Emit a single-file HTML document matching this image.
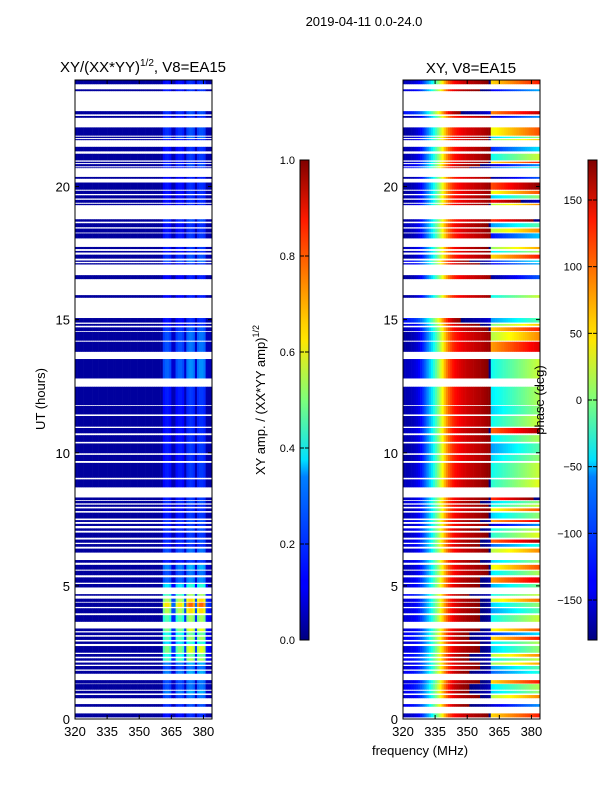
<!DOCTYPE html>
<html><head><meta charset="utf-8">
<style>
body{margin:0;background:#fff;}
svg{display:block;font-family:"Liberation Sans","DejaVu Sans",sans-serif;}
</style></head>
<body>
<svg id="fig" width="600" height="800" viewBox="0 0 600 800" xmlns="http://www.w3.org/2000/svg">
<defs>
<linearGradient id="jet" x1="0" y1="1" x2="0" y2="0">
<stop offset="0" stop-color="#000080"/><stop offset="0.11" stop-color="#0000ff"/>
<stop offset="0.125" stop-color="#0000ff"/><stop offset="0.34" stop-color="#0080ff"/>
<stop offset="0.375" stop-color="#00e0ff"/><stop offset="0.5" stop-color="#7dff7a"/>
<stop offset="0.625" stop-color="#ffe600"/><stop offset="0.66" stop-color="#ffd000"/>
<stop offset="0.875" stop-color="#ff1a00"/><stop offset="1" stop-color="#800000"/>
</linearGradient>
</defs>
<text x="364" y="26" font-size="13" text-anchor="middle">2019-04-11 0.0-24.0</text>
<text x="143" y="72" font-size="15" text-anchor="middle">XY/(XX*YY)<tspan font-size="10" dy="-6">1/2</tspan><tspan dy="6">, V8=EA15</tspan></text>
<text x="471" y="73" font-size="15" text-anchor="middle">XY, V8=EA15</text>
<g id="ampCells"></g>
<g id="phaseCells"></g>
<rect x="75" y="80" width="137" height="639" fill="none" stroke="#000" stroke-width="1"/>
<rect x="403" y="80" width="137" height="639" fill="none" stroke="#000" stroke-width="1"/>
<g id="axes" font-size="13"></g>
<text transform="translate(45,399) rotate(-90)" font-size="13" text-anchor="middle">UT (hours)</text>
<text x="420" y="755" font-size="13" text-anchor="middle">frequency (MHz)</text>
<rect x="300" y="160" width="9" height="480" fill="url(#jet)" stroke="#000" stroke-width="1"/>
<rect x="588" y="160" width="9" height="480" fill="url(#jet)" stroke="#000" stroke-width="1"/>
<text transform="translate(265,400) rotate(-90)" font-size="13" text-anchor="middle">XY amp. / (XX*YY amp)<tspan font-size="9" dy="-6">1/2</tspan></text>
<text transform="translate(544,400) rotate(-90)" font-size="13" text-anchor="middle">phase (deg)</text>
<g id="cbticks" font-size="11"></g>
</svg>
<script>
// ---- data ----
const freqMin = 320, freqMax = 384;
const channels = [];
for (let f = 320; f < 384; f++) channels.push(f);
const chanProfile = [0.03,0.03,0.03,0.03,0.03,0.03,0.03,0.03,0.03,0.03,0.03,0.03,0.03,0.03,0.03,0.03,0.03,0.03,0.03,0.03,
0.03,0.03,0.03,0.03,0.03,0.03,0.03,0.03,0.03,0.03,0.03,0.03,0.03,0.03,0.03,0.03,0.03,0.03,0.03,0.03,0.03,
0.9,1.0,1.0,0.9,0.35,0.35,0.9,1.0,1.0,0.9,0.35,1.1,1.2,1.2,1.1,0.35,1.1,1.2,1.2,1.1,0.3,0.25,0.25];
// phase vs channel (deg, relative) for the lower band 320-360 MHz
const phaseProfile = [-160,-158,-156,-154,-151,-147,-142,-135,-125,-112,-98,-82,-65,-48,-30,-12,8,28,50,72,
92,108,120,130,137,142,146,150,153,156,158,160,162,164,166,168,170,172,175,178,-178];
// segments: start hour, end hour
const segStart = [23.84,23.58,22.71,22.58,21.91,21.82,21.74,21.32,20.98,20.88,20.76,20.69,20.29,19.88,19.72,19.55,19.39,19.30,18.68,18.47,18.27,18.05,17.65,17.52,17.29,17.17,17.07,16.52,15.82,14.89,14.77,14.57,14.21,13.79,12.79,11.79,11.44,10.98,10.73,10.41,9.98,9.69,9.06,8.70,8.22,8.10,7.97,7.81,7.53,7.40,7.25,7.07,6.81,6.62,6.47,6.25,5.87,5.61,5.40,5.12,4.94,4.63,4.40,4.21,3.97,3.65,3.30,3.15,2.97,2.82,2.49,2.34,2.19,2.04,1.86,1.70,1.33,1.10,0.96,0.78,0.46,0.06];
const segEnd = [24.0,23.65,22.83,22.65,22.22,21.87,21.78,21.49,21.23,20.93,20.84,20.72,20.36,20.15,19.84,19.67,19.50,19.35,18.77,18.62,18.42,18.24,17.73,17.58,17.44,17.22,17.12,16.67,15.92,15.06,14.84,14.71,14.54,14.17,13.52,12.48,11.76,11.38,10.93,10.66,10.35,9.92,9.62,9.00,8.32,8.19,8.05,7.91,7.75,7.47,7.33,7.16,7.00,6.74,6.57,6.40,5.97,5.79,5.57,5.32,5.07,4.69,4.52,4.37,4.16,3.90,3.40,3.25,3.09,2.91,2.74,2.44,2.28,2.12,1.99,1.81,1.46,1.31,1.06,0.90,0.56,0.21];
const segGain = [0.14,0.15,0.17,0.14,0.17,0.2,0.14,0.14,0.15,0.14,0.17,0.14,0.13,0.14,0.14,0.14,0.14,0.14,0.17,0.14,0.14,0.15,0.15,0.14,0.17,0.2,0.14,0.13,0.13,0.14,0.14,0.18,0.2,0.2,0.22,0.15,0.14,0.14,0.14,0.14,0.15,0.14,0.15,0.14,0.15,0.17,0.14,0.14,0.15,0.17,0.15,0.17,0.15,0.17,0.14,0.2,0.15,0.25,0.2,0.22,0.35,0.45,0.55,0.65,0.55,0.45,0.5,0.4,0.45,0.35,0.5,0.4,0.45,0.25,0.2,0.25,0.2,0.2,0.25,0.2,0.17,0.14];
const segPhase0 = [0,10,30,-10,-10,0,0,-5,-5,0,10,20,-10,-10,-10,-5,-10,0,-10,0,-5,-10,0,-5,-10,20,10,-10,-10,30,10,0,-10,-10,0,-5,-5,-10,0,-5,-10,-10,-5,0,0,10,0,-5,0,10,0,10,0,10,10,0,10,0,0,10,10,20,10,10,10,10,10,20,20,10,10,20,20,10,10,20,10,20,20,10,20,0];
const segPhaseR = [60,-140,90,-150,40,-60,0,-120,-40,60,-150,-100,-170,110,40,-60,140,20,120,-80,20,-130,10,-50,60,-120,-140,-170,-40,-80,0,60,20,80,-40,-50,-60,-40,100,-50,-80,-60,-40,-30,120,-60,-40,40,-60,80,-150,-40,-30,100,-100,20,-60,40,-50,80,-70,-40,30,-60,-80,-40,40,-120,60,-50,-60,20,-40,10,-80,-100,60,-50,-60,20,-150,60];

// ---- scales ----
const ampX0 = 75, phX0 = 403, panelW = 137;
function xScale(f, x0){ return x0 + (f - freqMin) * panelW / (freqMax - freqMin); }
function yScale(t){ return 719 - t * 639 / 24; }
function jet(v){
  v = Math.max(0, Math.min(1, v));
  const r = Math.max(0, Math.min(1, 1.5 - Math.abs(4*v - 3)));
  const g = Math.max(0, Math.min(1, 1.5 - Math.abs(4*v - 2)));
  const b = Math.max(0, Math.min(1, 1.5 - Math.abs(4*v - 1)));
  return 'rgb(' + Math.round(r*255) + ',' + Math.round(g*255) + ',' + Math.round(b*255) + ')';
}
function wrap(p){ return ((p + 180) % 360 + 360) % 360 - 180; }
const NS = 'http://www.w3.org/2000/svg';
const ampG = document.getElementById('ampCells');
const phG = document.getElementById('phaseCells');
const cw = panelW / channels.length;
for (let s = 0; s < segStart.length; s++) {
  const y0 = yScale(segEnd[s]), y1 = yScale(segStart[s]);
  for (let c = 0; c < channels.length; c++) {
    const f = channels[c];
    const amp = chanProfile[c] < 0.1 ? chanProfile[c] : Math.min(1, chanProfile[c] * segGain[s]);
    const a = document.createElementNS(NS, 'rect');
    a.setAttribute('x', xScale(f, ampX0).toFixed(2));
    a.setAttribute('y', y0.toFixed(2));
    a.setAttribute('width', (cw + 0.3).toFixed(2));
    a.setAttribute('height', (y1 - y0).toFixed(2));
    a.setAttribute('fill', jet(amp));
    
    
    ampG.appendChild(a);
    let ph;
    if (c < phaseProfile.length) ph = wrap(segPhase0[s] + phaseProfile[c]);
    else ph = wrap(segPhaseR[s] + 3 * (f - 361));
    const p = document.createElementNS(NS, 'rect');
    p.setAttribute('x', xScale(f, phX0).toFixed(2));
    p.setAttribute('y', y0.toFixed(2));
    p.setAttribute('width', (cw + 0.3).toFixed(2));
    p.setAttribute('height', (y1 - y0).toFixed(2));
    p.setAttribute('fill', jet((ph + 180) / 360));
    
    
    phG.appendChild(p);
  }
}
// ---- axes ----
const xTicks = [320, 335, 350, 365, 380];
const yTicks = [0, 5, 10, 15, 20];
const ampTicks = [0.0, 0.2, 0.4, 0.6, 0.8, 1.0];
const phaseTicks = [-150, -100, -50, 0, 50, 100, 150];
const axG = document.getElementById('axes');
function line(g, x1, y1, x2, y2, name){
  const l = document.createElementNS(NS, 'line');
  l.setAttribute('x1', x1); l.setAttribute('y1', y1); l.setAttribute('x2', x2); l.setAttribute('y2', y2);
  l.setAttribute('stroke', '#000'); l.setAttribute('stroke-width', '1');
  
  
  g.appendChild(l);
}
function text(g, x, y, s, anchor, name){
  const t = document.createElementNS(NS, 'text');
  t.setAttribute('x', x); t.setAttribute('y', y); t.setAttribute('text-anchor', anchor);
  t.textContent = s;
  
  
  g.appendChild(t);
}
[ampX0, phX0].forEach(function(x0){
  xTicks.forEach(function(f){
    const x = xScale(f, x0);
    line(axG, x, 719, x, 715, 'x-tick');
    line(axG, x, 80, x, 84, 'x-tick');
    text(axG, x, 736, String(f), 'middle', 'x-tick-label');
  });
  yTicks.forEach(function(t){
    const y = yScale(t);
    line(axG, x0, y, x0 + 4, y, 'y-tick');
    line(axG, x0 + panelW, y, x0 + panelW - 4, y, 'y-tick');
    text(axG, x0 - 5, y + 5, String(t), 'end', 'y-tick-label');
  });
});
const cbG = document.getElementById('cbticks');
ampTicks.forEach(function(v){
  const y = 640 - v * 480;
  line(cbG, 300, y, 304, y, 'colorbar-tick');
  line(cbG, 309, y, 305, y, 'colorbar-tick');
  text(cbG, 295, y + 4, v.toFixed(1), 'end', 'amplitude-colorbar-tick-label');
});
phaseTicks.forEach(function(v){
  const y = 640 - (v + 180) / 360 * 480;
  line(cbG, 588, y, 592, y, 'colorbar-tick');
  line(cbG, 597, y, 593, y, 'colorbar-tick');
  text(cbG, 582, y + 4, v < 0 ? '\u2212' + Math.abs(v) : String(v), 'end', 'phase-colorbar-tick-label');
});
</script>
</body></html>
